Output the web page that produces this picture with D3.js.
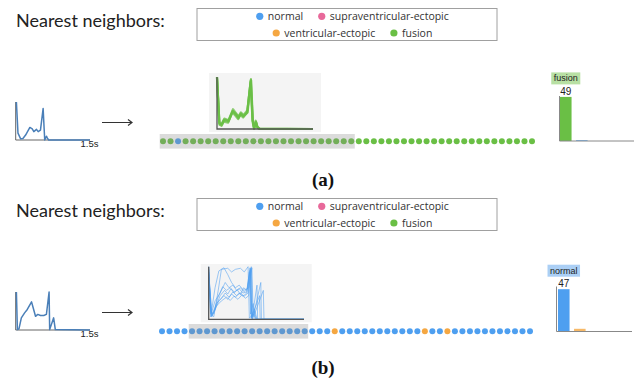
<!DOCTYPE html>
<html><head><meta charset="utf-8">
<script src="https://cdn.jsdelivr.net/npm/d3@7"></script>
<style>body{margin:0;background:#fff} svg{display:block}</style>
</head><body><svg id="c" width="639" height="383"></svg>
<script>
// ---------- DATA ----------
const categories = ["normal", "supraventricular-ectopic", "ventricular-ectopic", "fusion"];
const catCodes   = ["N", "S", "V", "F"];
const catColors  = ["#4e9ff0", "#e8699a", "#f5a742", "#6abf45"];
const tagColors  = ["#abcff5", "#f3b9cf", "#fad6a6", "#b8e0a4"];
const panelLabels = ["(a)", "(b)"];
const titleText = "Nearest neighbors:";
const timeTickLabel = "1.5s";
const timeDomain = [0, 1.5];

// query beats: [seconds, normalised amplitude]
const queryA = [[0.014,1.0],[0.046,0.18],[0.10,0.03],[0.146,0.04],[0.20,0.13],[0.286,0.33],[0.334,0.29],
  [0.366,0.22],[0.42,0.28],[0.454,0.22],[0.50,0.26],[0.554,0.83],[0.574,0.30],[0.586,0.0],[0.62,0.10],
  [0.64,0.05],[0.666,0.0],[1.5,0.0]];
const queryB = [[0.014,1.0],[0.034,0.01],[0.066,0.03],[0.114,0.32],[0.18,0.45],[0.234,0.54],[0.32,0.74],
  [0.354,0.58],[0.40,0.36],[0.446,0.41],[0.50,0.38],[0.566,0.38],[0.62,0.41],[0.674,1.0],[0.686,0.01],
  [0.766,0.32],[0.80,0.01],[1.5,0.0]];

// highlighted neighbour beats (overlay)
const overlayA1 = [[0,1.0],[0.036,0.11],[0.073,0.08],[0.109,0.17],[0.177,0.14],[0.245,0.35],[0.297,0.27],[0.333,0.21],
  [0.37,0.29],[0.411,0.24],[0.473,0.33],[0.527,0.93],[0.558,0.17],[0.578,0.02],[0.609,0.14],[0.63,0.04],[0.661,0.01],[1.5,0]];
const overlayA2 = [[0,0.97],[0.04,0.08],[0.075,0.11],[0.115,0.2],[0.18,0.17],[0.25,0.38],[0.3,0.3],[0.335,0.24],
  [0.372,0.32],[0.415,0.27],[0.476,0.36],[0.53,0.96],[0.556,0.14],[0.58,0.0],[0.61,0.11],[0.633,0.02],[0.665,0.0],[1.5,0]];
const overlayA3 = [[0,0.99],[0.033,0.14],[0.07,0.06],[0.105,0.14],[0.172,0.12],[0.24,0.32],[0.292,0.25],[0.33,0.19],
  [0.366,0.27],[0.408,0.22],[0.47,0.31],[0.524,0.9],[0.553,0.2],[0.575,0.04],[0.605,0.16],[0.627,0.05],[0.658,0.01],[1.5,0]];
const overlayA4 = [[0,1.0],[0.038,0.1],[0.078,0.09],[0.112,0.18],[0.182,0.16],[0.248,0.34],[0.302,0.28],[0.338,0.22],
  [0.375,0.3],[0.414,0.25],[0.478,0.32],[0.532,0.94],[0.561,0.16],[0.582,0.01],[0.612,0.13],[0.636,0.03],[0.668,0.0],[1.5,0]];

const overlayB1 = [[0,1],[0.03,0.1],[0.08,0.05],[0.15,0.55],[0.2,0.95],[0.3,0.97],[0.36,0.9],[0.42,0.95],[0.5,0.97],[0.56,0.9],[0.62,1.0],[0.64,0.02],[0.7,0.1],[0.75,0],[1.5,0]];
const overlayB2 = [[0,0.95],[0.04,0.05],[0.1,0.2],[0.18,0.45],[0.25,0.55],[0.3,0.48],[0.35,0.58],[0.4,0.5],[0.45,0.56],[0.5,0.47],[0.55,0.6],[0.6,0.55],[0.65,0.98],[0.67,0.05],[0.72,0.2],[0.76,0],[1.5,0]];
const overlayB3 = [[0,0.9],[0.05,0.08],[0.12,0.3],[0.2,0.4],[0.26,0.5],[0.32,0.42],[0.38,0.52],[0.44,0.45],[0.5,0.5],[0.56,0.44],[0.62,0.5],[0.66,0.95],[0.68,0],[0.76,0.65],[0.77,0],[1.5,0]];
const overlayB4 = [[0,1],[0.03,0.15],[0.08,0.1],[0.14,0.4],[0.22,0.62],[0.28,0.55],[0.34,0.6],[0.4,0.52],[0.48,0.58],[0.54,0.5],[0.6,0.52],[0.64,0.9],[0.66,0.1],[0.7,0.3],[0.73,0],[1.5,0]];
const overlayB5 = [[0,0.85],[0.04,0.12],[0.1,0.6],[0.16,0.92],[0.24,0.98],[0.3,0.85],[0.36,0.7],[0.42,0.6],[0.48,0.65],[0.55,0.55],[0.63,0.6],[0.68,0.98],[0.7,0.05],[0.82,0.7],[0.83,0],[1.5,0]];
const overlayB6 = [[0,0.9],[0.05,0.05],[0.12,0.25],[0.2,0.35],[0.28,0.42],[0.34,0.36],[0.4,0.44],[0.46,0.38],[0.52,0.46],[0.58,0.4],[0.63,0.45],[0.67,1.0],[0.69,0],[0.86,0.55],[0.87,0],[1.5,0]];
const overlayB7 = [[0,0.8],[0.04,0.1],[0.1,0.35],[0.18,0.5],[0.26,0.7],[0.32,0.6],[0.38,0.65],[0.44,0.55],[0.5,0.6],[0.56,0.52],[0.61,0.58],[0.65,0.93],[0.67,0.02],[0.8,0.45],[0.81,0],[1.5,0]];
const overlayB8 = [[0,0.95],[0.03,0.05],[0.09,0.15],[0.16,0.35],[0.24,0.45],[0.3,0.38],[0.36,0.48],[0.42,0.42],[0.48,0.5],[0.54,0.44],[0.6,0.5],[0.66,0.97],[0.68,0.03],[0.72,0.15],[0.75,0],[1.5,0]];

// 50 nearest neighbours, class codes
const neighborsA = ["FFNFFFFFFF","FFFFFFFFFF","FFFFFFFFFF","FFFFFFFFFF","FFFFFFFFFF"].join("").split("");
const neighborsB = ["NNNNNNNNNN","NNNNNNNNNN","NNNVNNNNNN","NNNNNVNNVN","NNNNNNNNNN"].join("").split("");
const highlightA = [0, 25];
const highlightB = [4, 19];
const countMax = 50;

// ---------- LAYOUT ----------
const panels = [
  { dy: 0, query: queryA, overlay: [overlayA1, overlayA2, overlayA3, overlayA4], neighbors: neighborsA, hl: highlightA,
    dots: [163, 532], box: {x: 209, y: 73, w: 112, h: 59, l: 217, t: 77, b: 129, r: 313},
    ovColor: "#6abf45", ovWidth: 2.2, ovOpacity: 0.75,
    bar: {axisX: 559.5, x0: 560, base: 141, right: 634} },
  { dy: 190, query: queryB, overlay: [overlayB1, overlayB2, overlayB3, overlayB4, overlayB5, overlayB6, overlayB7, overlayB8], neighbors: neighborsB, hl: highlightB,
    dots: [162, 530], box: {x: 200.7, y: 264, w: 111, h: 58.3, l: 208.7, t: 266.7, b: 319.3, r: 304},
    ovColor: "#4e9ff0", ovWidth: 1, ovOpacity: 0.55,
    bar: {axisX: 556.5, x0: 558, base: 331.5, right: 632} }
];

const svg = d3.select("#c");
const colorOf = d3.scaleOrdinal().domain(catCodes).range(catColors);
const tagOf = d3.scaleOrdinal().domain(catCodes).range(tagColors);
const nameOf = d3.scaleOrdinal().domain(catCodes).range(categories);

panels.forEach((p, pi) => {
  const dy = p.dy;
  // title
  svg.append("text").attr("x", 16).attr("y", 27 + dy)
    .attr("font-family", "Lato").attr("font-size", 18).attr("fill", "#222").text(titleText);

  // legend
  const lg = svg.append("g");
  lg.append("rect").attr("x", 197).attr("y", 8.5 + dy).attr("width", 300).attr("height", 32)
    .attr("fill", "none").attr("stroke", "#a0a0a0").attr("stroke-width", 1);
  const rows = [[0, 1], [2, 3]];
  rows.forEach((row, ri) => {
    const cy = (ri === 0 ? 16.3 : 33) + dy;
    const g = lg.append("g");
    let x = 0;
    row.forEach((ci, k) => {
      if (k > 0) x += 15;
      g.append("circle").attr("cx", x + 3.6).attr("cy", cy).attr("r", 3.6).attr("fill", catColors[ci]);
      x += 7.2 + 4.5;
      const t = g.append("text").attr("x", x).attr("y", cy + 3.7)
        .attr("font-family", "Open Sans").attr("font-size", 10.5).attr("fill", "#333").text(categories[ci]);
      x += t.node().getComputedTextLength();
    });
    g.attr("transform", `translate(${352.5 - x / 2},0)`);
  });

  // query beat
  const qx = d3.scaleLinear().domain(timeDomain).range([15.7, 90]);
  const qy = d3.scaleLinear().domain([0, 1]).range([140 + dy, 102 + dy]);
  svg.append("path").attr("d", `M15.7,${102 + dy}V${140 + dy}H90`).attr("fill", "none").attr("stroke", "#666").attr("stroke-width", 1);
  svg.append("path").datum(p.query).attr("d", d3.line().x(d => qx(d[0])).y(d => qy(d[1])))
    .attr("fill", "none").attr("stroke", "#4a7fb8").attr("stroke-width", 1.5).attr("stroke-linejoin", "round");
  svg.append("text").attr("x", 98.5).attr("y", 147.3 + dy).attr("text-anchor", "end")
    .attr("font-family", "Liberation Sans").attr("font-size", 9.5).attr("fill", "#222").text(timeTickLabel);

  // arrow
  const ay = 122.5 + dy;
  svg.append("path").attr("d", `M102,${ay}H132M128,${ay - 3}L132,${ay}L128,${ay + 3}`)
    .attr("fill", "none").attr("stroke", "#333").attr("stroke-width", 1.2);

  // neighbour dots
  const dx = d3.scalePoint().domain(d3.range(p.neighbors.length)).range(p.dots);
  const dotY = 141.3 + dy;
  svg.append("g").selectAll("circle").data(p.neighbors).join("circle")
    .attr("cx", (d, i) => dx(i)).attr("cy", dotY).attr("r", 3).attr("fill", d => colorOf(d));
  // highlight band
  svg.append("rect").attr("x", dx(p.hl[0]) - 3.3).attr("y", dotY - 7.3)
    .attr("width", dx(p.hl[1]) - dx(p.hl[0]) + 6.8).attr("height", 14.6)
    .attr("fill", "#888").attr("opacity", 0.3);

  // overlay box
  const b = p.box;
  svg.append("rect").attr("x", b.x).attr("y", b.y).attr("width", b.w).attr("height", b.h).attr("fill", "#f4f4f4");
  const ox = d3.scaleLinear().domain(timeDomain).range([b.l, b.r]);
  const oy = d3.scaleLinear().domain([0, 1]).range([b.b, b.t]);
  svg.append("g").selectAll("path").data(p.overlay).join("path")
    .attr("d", d3.line().x(d => ox(d[0])).y(d => oy(d[1])))
    .attr("fill", "none").attr("stroke", p.ovColor).attr("stroke-width", p.ovWidth)
    .attr("stroke-opacity", p.ovOpacity).attr("stroke-linejoin", "round");
  svg.append("path").attr("d", `M${b.l},${b.t}V${b.b}H${b.r}`).attr("fill", "none").attr("stroke", "#555").attr("stroke-width", 1.3);

  // bar chart of neighbour classes
  const counts = catCodes.map(c => ({c, n: p.neighbors.filter(v => v === c).length}));
  counts.sort((a, b2) => d3.descending(a.n, b2.n) || catCodes.indexOf(a.c) - catCodes.indexOf(b2.c));
  const bb = p.bar;
  const bx = d3.scaleBand().domain(counts.map(d => d.c)).range([bb.x0, bb.x0 + 59.7]).paddingInner(0.28).paddingOuter(0);
  const by = d3.scaleLinear().domain([0, countMax]).range([bb.base, bb.base - 45]);
  svg.append("g").selectAll("rect").data(counts.filter(d => d.n > 0)).join("rect")
    .attr("x", d => bx(d.c)).attr("width", bx.bandwidth())
    .attr("y", d => by(d.n)).attr("height", d => bb.base - by(d.n))
    .attr("fill", d => colorOf(d.c)).attr("opacity", (d, i) => i === 0 ? 1 : 0.8);
  svg.append("path").attr("d", `M${bb.axisX},${by(countMax)}V${bb.base}H${bb.right}`)
    .attr("fill", "none").attr("stroke", "#888").attr("stroke-width", 1);
  const top = counts[0];
  const cx = bx(top.c) + bx.bandwidth() / 2;
  svg.append("text").attr("x", cx).attr("y", by(top.n) - 2).attr("text-anchor", "middle")
    .attr("font-family", "Liberation Sans").attr("font-size", 10).attr("fill", "#222").text(top.n);
  const tg = svg.append("g");
  const tt = tg.append("text").attr("x", cx).attr("y", by(top.n) - 15.5).attr("text-anchor", "middle")
    .attr("font-family", "Liberation Sans").attr("font-size", 9).attr("fill", "#222").text(nameOf(top.c));
  const tw = tt.node().getComputedTextLength();
  tg.insert("rect", "text").attr("x", cx - tw / 2 - 2.5).attr("y", by(top.n) - 24.5)
    .attr("width", tw + 5).attr("height", 12).attr("fill", tagOf(top.c));

  // panel label
  svg.append("text").attr("x", 323).attr("y", 185.5 + dy * 0.99).attr("text-anchor", "middle")
    .attr("font-family", "Liberation Serif").attr("font-weight", "bold").attr("font-size", 19)
    .attr("fill", "#111").text(panelLabels[pi]);
});
</script></body></html>
